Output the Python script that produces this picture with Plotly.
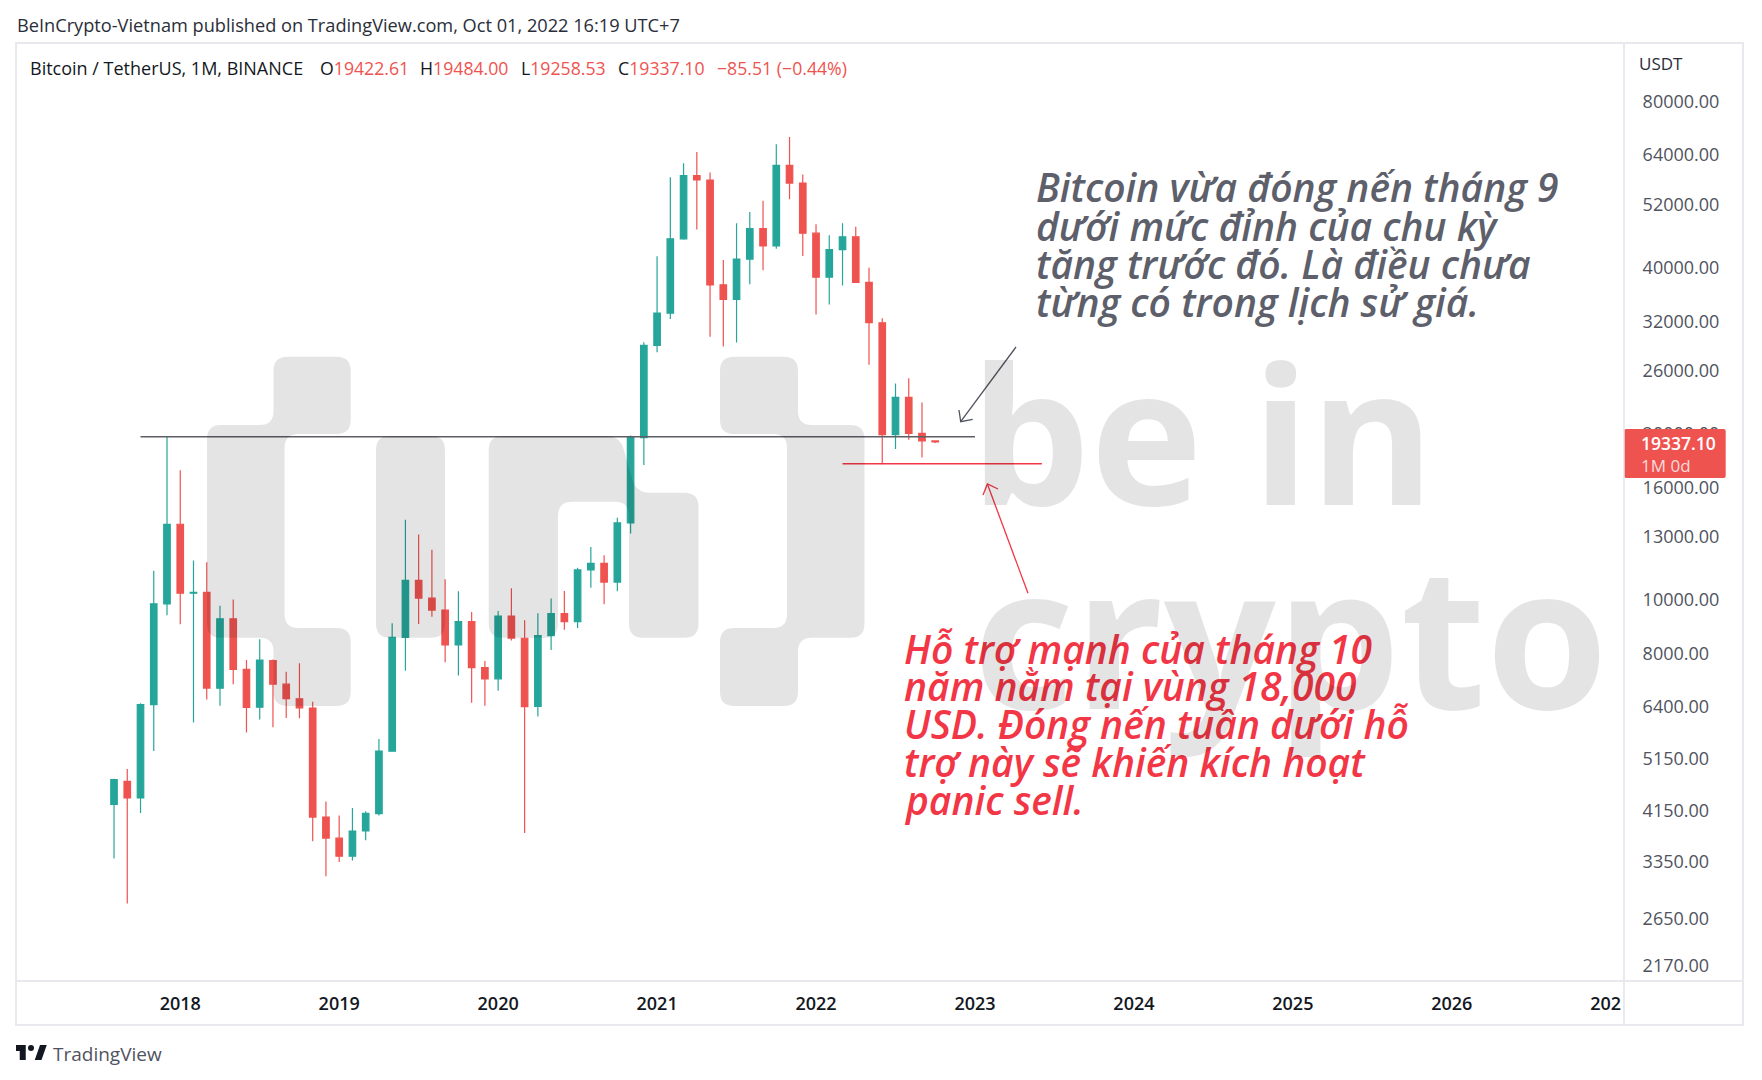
import plotly.graph_objects as go

# Monthly BTCUSDT candles, Aug 2017 to Oct 2022
months = [
    "2017-08", "2017-09", "2017-10", "2017-11", "2017-12",
    "2018-01", "2018-02", "2018-03", "2018-04", "2018-05", "2018-06", "2018-07", "2018-08", "2018-09", "2018-10", "2018-11", "2018-12",
    "2019-01", "2019-02", "2019-03", "2019-04", "2019-05", "2019-06", "2019-07", "2019-08", "2019-09", "2019-10", "2019-11", "2019-12",
    "2020-01", "2020-02", "2020-03", "2020-04", "2020-05", "2020-06", "2020-07", "2020-08", "2020-09", "2020-10", "2020-11", "2020-12",
    "2021-01", "2021-02", "2021-03", "2021-04", "2021-05", "2021-06", "2021-07", "2021-08", "2021-09", "2021-10", "2021-11", "2021-12",
    "2022-01", "2022-02", "2022-03", "2022-04", "2022-05", "2022-06", "2022-07", "2022-08", "2022-09", "2022-10",
]
opens = [
    4261, 4690, 4378, 6463, 9837,
    13716, 10285, 10326, 6922, 9246, 7485, 6391, 7769, 7038, 6620, 6372, 4041,
    3701, 3434, 3814, 4102, 5322, 8555, 10854, 10081, 9589, 8290, 9141, 7541,
    7195, 9352, 8524, 6412, 8620, 9448, 9138, 11335, 11650, 10777, 13791, 19696,
    28924, 33093, 45134, 58739, 57697, 37254, 35045, 41462, 47101, 43820, 61300, 56951,
    46217, 38467, 43160, 45510, 37631, 31801, 19942, 23296, 20048, 19422.61,
]
highs = [
    4745, 4939, 6498, 11300, 19799,
    17176, 11786, 11710, 9760, 10020, 7787, 8492, 7800, 7410, 7680, 6540, 4313,
    4070, 4198, 4140, 5600, 9074, 13970, 13147, 12331, 10906, 10370, 9514, 7750,
    9553, 10500, 9188, 9460, 10067, 10380, 11444, 12468, 12051, 14100, 19863, 29300,
    41950, 58353, 61844, 64854, 59500, 41330, 48168, 50500, 52920, 67000, 69000, 59054,
    47990, 45821, 48190, 47444, 40024, 32395, 24668, 25215, 22799, 19484.00,
]
lows = [
    3400, 2817, 4110, 5325, 9380,
    9035, 6000, 6600, 6430, 7033, 5750, 6070, 5880, 6111, 6102, 3653, 3156,
    3350, 3373, 3671, 4067, 5316, 7445, 9050, 9320, 7710, 7300, 6515, 6435,
    6850, 8445, 3782, 6150, 8117, 8833, 8893, 10519, 9825, 10374, 13195, 17572,
    28130, 32296, 44951, 46930, 30000, 28805, 29278, 37333, 39600, 43283, 53257, 42000,
    32917, 34322, 37155, 37578, 26700, 17622, 18781, 19520, 18126, 19258.53,
]
closes = [
    4725, 4379, 6463, 9839, 13716,
    10285, 10327, 6924, 9246, 7485, 6390, 7780, 7038, 6627, 6372, 4041, 3703,
    3434, 3814, 4104, 5321, 8555, 10854, 10081, 9587, 8289, 9141, 7542, 7195,
    9353, 8524, 6410, 8620, 9448, 9139, 11335, 11650, 10777, 13791, 19696, 28924,
    33093, 45136, 58741, 57694, 37254, 35045, 41462, 47101, 43824, 61300, 56951, 46217,
    38467, 43160, 45510, 37631, 31801, 19942, 23293, 20050, 19422.61, 19337.10,
]

price_ticks = [80000, 64000, 52000, 40000, 32000, 26000, 20000, 16000, 13000, 10000, 8000, 6400, 5150, 4150, 3350, 2650, 2170]
price_labels = ["80000.00", "64000.00", "52000.00", "40000.00", "32000.00", "26000.00", "20000.00", "16000.00", "13000.00",
                "10000.00", "8000.00", "6400.00", "5150.00", "4150.00", "3350.00", "2650.00", "2170.00"]
year_ticks = [5, 17, 29, 41, 53, 65, 77, 89, 101, 113]
year_labels = ["2018", "2019", "2020", "2021", "2022", "2023", "2024", "2025", "2026", "2027"]

# Drawn levels: bar index and price
resistance_x = [2, 65]
resistance_y = [19767, 19767]
support_x = [55, 70.05]
support_y = [17660, 17660]

note_lines = ["Bitcoin vừa đóng nến tháng 9", "dưới mức đỉnh của chu kỳ", "tăng trước đó. Là điều chưa", "từng có trong lịch sử giá."]
note_y = [187, 225, 263, 301]
support_lines = ["Hỗ trợ mạnh của tháng 10", "năm nằm tại vùng 18,000", "USD. Đóng nến tuần dưới hỗ", "trợ này sẽ khiến kích hoạt", "panic sell."]
support_text_y = [648, 685, 723, 761, 799]

# Page geometry in pixels. The browser puts the figure 8px in from the page corner.
PAGE_OFFSET = 8
W, H = 1762 - PAGE_OFFSET, 1080 - PAGE_OFFSET
LEFT, RIGHT, TOP, BOTTOM = 16, 1624, 43, 981
UP, DOWN = "#26a69a", "#ef5350"
WATERMARK = "rgba(0,0,0,0.105)"
FONT = "Open Sans"


def px(x):
    return (x - LEFT) / (RIGHT - LEFT)


def py(y):
    return (BOTTOM - y) / (BOTTOM - TOP)


def rounded_path(points, r):
    # closed polygon with rounded corners, pixel points to paper coords
    n = len(points)
    parts = []
    for i in range(n):
        x, y = points[i]
        x0, y0 = points[i - 1]
        x1, y1 = points[(i + 1) % n]
        d0 = ((x - x0) ** 2 + (y - y0) ** 2) ** 0.5
        d1 = ((x - x1) ** 2 + (y - y1) ** 2) ** 0.5
        r0 = min(r, d0 / 2) / d0
        r1 = min(r, d1 / 2) / d1
        ax, ay = x + (x0 - x) * r0, y + (y0 - y) * r0
        bx, by = x + (x1 - x) * r1, y + (y1 - y) * r1
        parts.append(("M" if i == 0 else "L") + f"{px(ax):.5f},{py(ay):.5f}")
        parts.append(f"Q{px(x):.5f},{py(y):.5f} {px(bx):.5f},{py(by):.5f}")
    return " ".join(parts) + " Z"


def plain_path(points, close=False):
    s = "M" + " L".join(f"{px(x):.5f},{py(y):.5f}" for x, y in points)
    return s + (" Z" if close else "")


def fill_shape(path, color, layer="above"):
    return dict(type="path", xref="paper", yref="paper", path=path, fillcolor=color, line=dict(width=0), layer=layer)


def stroke_shape(path, color, width=1.3):
    return dict(type="path", xref="paper", yref="paper", path=path, line=dict(color=color, width=width), layer="above")


def rule(x0, y0, x1, y1, color, width, layer="above"):
    return dict(type="line", xref="paper", yref="paper", x0=px(x0), y0=py(y0), x1=px(x1), y1=py(y1),
                line=dict(color=color, width=width), layer=layer)


def label(text, x, y, size, color, anchor="left", family=FONT, **font_kw):
    return dict(text=text, xref="paper", yref="paper", x=px(x), y=py(y), xanchor=anchor, yanchor="middle",
                showarrow=False, borderpad=0, font=dict(family=family, size=size, color=color, **font_kw))


bars = list(range(len(months)))
fig = go.Figure()
fig.add_trace(go.Candlestick(
    x=bars, open=opens, high=highs, low=lows, close=closes,
    increasing=dict(line=dict(color=UP, width=1.2), fillcolor=UP),
    decreasing=dict(line=dict(color=DOWN, width=1.2), fillcolor=DOWN),
    whiskerwidth=0, showlegend=False,
))
fig.add_trace(go.Scatter(x=resistance_x, y=resistance_y, mode="lines", line=dict(color="#5d5e66", width=1.6), showlegend=False))
fig.add_trace(go.Scatter(x=support_x, y=support_y, mode="lines", line=dict(color="#f23645", width=1.4), showlegend=False))

# Watermark logo sits above the candles so they darken through it
left_bracket = [(273.5, 356.7), (350.7, 356.7), (350.7, 434), (284.6, 434), (284.6, 628), (350.7, 628), (350.7, 706),
                (273.5, 706), (273.5, 637.7), (207, 637.7), (207, 425), (273.5, 425)]
right_bracket = [(720, 356.7), (798, 356.7), (798, 425), (864.5, 425), (864.5, 637.7), (798, 637.7), (798, 706),
                 (720, 706), (720, 628), (787, 628), (787, 434), (720, 434)]
stem = [(376, 436), (445, 436), (445, 637.7), (376, 637.7)]
arch = [(488.7, 436), (620, 436), (636, 492.7), (698.5, 492.7), (698.5, 637.7), (629, 637.7), (629, 501.7),
        (558, 501.7), (558, 637.7), (488.7, 637.7)]
shapes = [fill_shape(rounded_path(p, 14), WATERMARK) for p in (left_bracket, right_bracket, stem, arch)]

# Hand drawn arrows
shapes.append(stroke_shape(plain_path([(1016, 347), (960.7, 421.7)]), "#50535e"))
shapes.append(stroke_shape(plain_path([(959, 410), (960.7, 421.7), (972.7, 419.3)]), "#50535e"))
shapes.append(stroke_shape(plain_path([(1028, 593.3), (987.4, 484)]), "#f23645"))
shapes.append(stroke_shape(plain_path([(983, 495), (987.4, 484), (998, 489)]), "#f23645"))

# Price tag, clip of the last year label, frame
shapes.append(fill_shape(rounded_path([(1624, 429), (1725.7, 429), (1725.7, 478), (1624, 478)], 2), DOWN))
shapes.append(dict(type="rect", xref="paper", yref="paper", x0=px(1621), x1=px(1742), y0=py(983), y1=py(1023),
                   fillcolor="white", line=dict(width=0), layer="above"))
shapes.append(rule(RIGHT, TOP, RIGHT, 1025, "#e0e3eb", 1.5))
shapes.append(rule(LEFT, BOTTOM, 1743, BOTTOM, "#e8e9ef", 2))
shapes.append(dict(type="rect", xref="paper", yref="paper", x0=px(LEFT), x1=px(1743), y0=py(TOP), y1=py(1025),
                   line=dict(color="#e8e9ef", width=2), layer="above"))

# TradingView logo
def tv(u, v):
    return (16 + (u - 2) * 0.75, 1045 + (v - 6) * 1.0)


shapes.append(fill_shape(plain_path([tv(2, 6), tv(15, 6), tv(15, 21), tv(7, 21), tv(7, 12), tv(2, 12)], True), "#131722"))
shapes.append(fill_shape(plain_path([tv(27, 21), tv(36, 21), tv(43, 6), tv(34, 6)], True), "#131722"))
shapes.append(dict(type="circle", xref="paper", yref="paper", x0=px(tv(18, 6)[0]), x1=px(tv(26, 6)[0]),
                   y0=py(tv(22, 12)[1]), y1=py(tv(22, 6)[1]), fillcolor="#131722", line=dict(width=0), layer="above"))

header_grey = "#131722"
annotations = [
    label("BeInCrypto-Vietnam published on TradingView.com, Oct 01, 2022 16:19 UTC+7", 16, 25, 18.2, "#2a2e39"),
    label("Bitcoin / TetherUS, 1M, BINANCE", 29, 68, 18, header_grey),
    label("O<span style='color:#ef5350'>19422.61</span>", 319, 68, 17.7, header_grey),
    label("H<span style='color:#ef5350'>19484.00</span>", 419, 68, 17.7, header_grey),
    label("L<span style='color:#ef5350'>19258.53</span>", 520, 68, 17.7, header_grey),
    label("C<span style='color:#ef5350'>19337.10</span>", 617, 68, 17.7, header_grey),
    label("−85.51 (−0.44%)", 716, 68, 17.7, DOWN),
    label("USDT", 1638, 64, 17, "#2a2e39"),
    label("19337.10", 1640, 443, 17.5, "white", weight=600),
    label("1M 0d", 1640, 465, 17, "#fbdcdc"),
    label("TradingView", 52, 1054, 19, "#50535e"),
]
for text, y in zip(note_lines, note_y):
    annotations.append(label(text, 1035, y, 39, "#5d606b", weight=600, style="italic"))
for text, y in zip(support_lines, support_text_y):
    annotations.append(label(text, 903, y, 39, "#f23645", weight=600, style="italic"))
# Watermark words last, they tint whatever is under them
annotations.append(label("be in", 969, 432, 190, WATERMARK, weight=700))
annotations.append(label("crypto", 972, 632, 197, WATERMARK, weight=700))

fig.update_layout(
    width=W, height=H, autosize=False,
    margin=dict(l=LEFT - PAGE_OFFSET, r=W - (RIGHT - PAGE_OFFSET), t=TOP - PAGE_OFFSET, b=H - (BOTTOM - PAGE_OFFSET), pad=0),
    paper_bgcolor="white", plot_bgcolor="white",
    boxgap=0.3,
    showlegend=False,
    shapes=shapes, annotations=annotations,
    font=dict(family=FONT),
)
fig.update_xaxes(
    range=[-7.4, 114.0], rangeslider=dict(visible=False), showgrid=False, zeroline=False, showline=False,
    tickmode="array", tickvals=year_ticks, ticktext=year_labels, ticks="outside", ticklen=6, tickcolor="rgba(0,0,0,0)",
    tickangle=0, tickfont=dict(family=FONT, size=18, color="#131722", weight=600),
)
fig.update_yaxes(
    type="log", range=[3.3095, 5.0094], side="right", showgrid=False, zeroline=False, showline=False,
    tickmode="array", tickvals=price_ticks, ticktext=price_labels, ticks="outside", ticklen=14, tickcolor="rgba(0,0,0,0)",
    tickfont=dict(family=FONT, size=18, color="#50535e"),
)

fig.write_html("out.html")
